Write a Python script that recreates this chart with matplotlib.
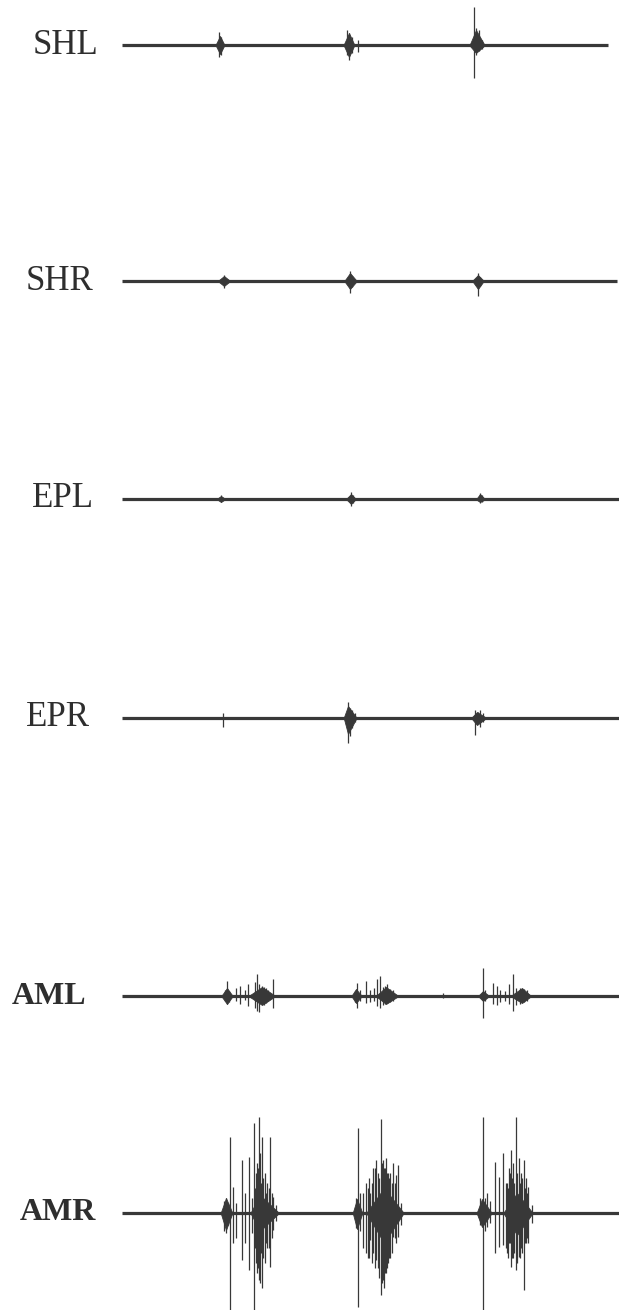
import matplotlib
matplotlib.use("Agg")
import matplotlib.pyplot as plt

# ---------------- data ----------------
channels = ["SHL", "SHR", "EPL", "EPR", "AML", "AMR"]
trace_end = [4.86, 4.95, 4.97, 4.97, 4.97, 4.97]   # s, end of each recorded trace

# spike events: time (s), upward deflection, downward deflection (a.u.)
SHL_t    = [0.97, 0.99, 2.25, 2.27, 2.30, 2.36, 3.52, 3.54, 3.57, 3.60]
SHL_up   = [13, 8, 15, 12, 8, 5, 38, 17, 15, 5]
SHL_down = [12, 10, 10, 15, 8, 7, 33, 10, 6, 4]

SHR_t    = [1.02, 2.28, 2.30, 3.56, 3.58]
SHR_up   = [6, 10, 5, 8, 4]
SHR_down = [7, 12, 6, 15, 5]

EPL_t    = [0.99, 2.29, 2.31, 3.58, 3.60]
EPL_up   = [4, 7, 4, 6, 4]
EPL_down = [3, 7, 4, 4, 3]

EPR_t    = [1.01, 2.26, 2.28, 2.30, 2.33, 3.53, 3.56, 3.58, 3.61]
EPR_up   = [5, 16, 10, 8, 5, 8, 6, 8, 5]
EPR_down = [9, 25, 18, 10, 4, 17, 5, 9, 4]

AML_t    = [1.03, 1.05, 1.07, 1.14, 1.18, 1.23, 1.26, 1.33, 1.35, 1.37, 1.40, 1.42,
            1.44, 1.46, 1.51,
            2.33, 2.35, 2.38, 2.44, 2.48, 2.52, 2.55, 2.58, 2.61, 2.63, 2.65, 2.68, 2.71,
            3.21,
            3.61, 3.63, 3.71, 3.75, 3.78, 3.83, 3.87, 3.91, 3.94, 3.98, 4.02, 4.05]
AML_up   = [6, 15, 5, 8, 10, 6, 12, 14, 22, 12, 10, 9, 8, 6, 17,
            5, 13, 6, 15, 6, 8, 17, 20, 9, 10, 12, 7, 6,
            3,
            28, 6, 13, 10, 6, 5, 12, 22, 8, 8, 7, 6]
AML_down = [5, 8, 6, 5, 8, 4, 10, 12, 15, 16, 8, 9, 7, 5, 12,
            6, 12, 5, 7, 6, 5, 10, 12, 9, 8, 7, 6, 5,
            2,
            22, 5, 8, 9, 6, 5, 8, 15, 9, 8, 6, 5]

AMR_t    = [1.02, 1.04, 1.06, 1.08, 1.11, 1.14, 1.20, 1.23, 1.27, 1.30, 1.32, 1.33, 1.34,
            1.35, 1.36, 1.37, 1.38, 1.39, 1.40, 1.41, 1.43, 1.44, 1.45, 1.47, 1.48, 1.50,
            1.51, 1.54,
            2.34, 2.36, 2.38, 2.41, 2.44, 2.46, 2.47, 2.48, 2.50, 2.51, 2.53, 2.54, 2.56,
            2.57, 2.59, 2.60, 2.61, 2.62, 2.63, 2.64, 2.65, 2.66, 2.67, 2.68, 2.70, 2.71,
            2.73, 2.74, 2.76, 2.79,
            3.58, 3.61, 3.63, 3.65, 3.68, 3.73, 3.77, 3.81, 3.84, 3.85, 3.86, 3.87, 3.88,
            3.89, 3.90, 3.91, 3.92, 3.94, 3.95, 3.97, 3.98, 3.99, 4.00, 4.02, 4.03, 4.04,
            4.05, 4.06, 4.10]
AMR_up   = [12, 15, 10, 76, 26, 10, 53, 20, 56, 15, 90, 25, 40, 50, 45, 96, 60, 30, 76,
            35, 40, 20, 30, 25, 76, 20, 16, 8,
            15, 85, 20, 20, 30, 25, 35, 20, 30, 45, 45, 53, 40, 35, 94, 50, 53, 45, 45,
            55, 40, 40, 35, 40, 30, 50, 30, 38, 48, 10,
            15, 96, 15, 20, 12, 51, 36, 60, 30, 30, 25, 45, 40, 63, 35, 50, 30, 96, 40,
            55, 30, 40, 35, 53, 25, 35, 20, 26, 8]
AMR_down = [18, 20, 12, 97, 30, 25, 47, 30, 57, 20, 97, 35, 50, 60, 55, 67, 70, 40, 75,
            45, 50, 30, 35, 35, 54, 25, 17, 8,
            15, 94, 18, 35, 40, 45, 45, 27, 50, 40, 55, 47, 55, 65, 82, 70, 67, 75, 60,
            60, 55, 50, 45, 45, 40, 24, 25, 30, 24, 12,
            12, 97, 18, 14, 10, 40, 34, 32, 35, 40, 45, 30, 30, 54, 45, 45, 40, 57, 50,
            44, 45, 35, 40, 77, 30, 30, 25, 30, 10]

# dense burst envelopes (spindle shaped): start, peak, end (s), upward, downward extent
SHL_env = [(0.94, 0.98, 1.02, 9, 9), (2.22, 2.27, 2.32, 12, 12), (3.48, 3.54, 3.62, 15, 8)]
SHR_env = [(0.97, 1.02, 1.07, 5, 5), (2.23, 2.28, 2.34, 8, 8), (3.51, 3.56, 3.61, 6, 8)]
EPL_env = [(0.96, 0.99, 1.02, 3, 3), (2.25, 2.29, 2.33, 5, 5), (3.55, 3.58, 3.62, 5, 3)]
EPR_env = [(2.22, 2.26, 2.34, 12, 16), (3.50, 3.55, 3.63, 6, 7)]
AML_env = [(1.00, 1.05, 1.10, 8, 8), (1.28, 1.40, 1.52, 9, 9), (2.30, 2.34, 2.39, 7, 7),
           (2.55, 2.64, 2.75, 9, 8), (3.57, 3.61, 3.66, 5, 5), (3.90, 4.00, 4.08, 8, 7)]
AMR_env = [(0.99, 1.04, 1.10, 15, 17), (1.29, 1.38, 1.56, 18, 18), (2.31, 2.35, 2.40, 14, 16),
           (2.45, 2.62, 2.81, 25, 30), (3.55, 3.60, 3.69, 14, 14), (3.82, 3.95, 4.10, 20, 22)]

events = {
    "SHL": (SHL_t, SHL_up, SHL_down, SHL_env),
    "SHR": (SHR_t, SHR_up, SHR_down, SHR_env),
    "EPL": (EPL_t, EPL_up, EPL_down, EPL_env),
    "EPR": (EPR_t, EPR_up, EPR_down, EPR_env),
    "AML": (AML_t, AML_up, AML_down, AML_env),
    "AMR": (AMR_t, AMR_up, AMR_down, AMR_env),
}

# ---------------- layout ----------------
W, H, DPI = 619, 1310, 100
baseline_px = [45, 281, 499, 718, 996, 1213]
label_x_px = [33, 26, 32, 26, 12, 20]
label_size = [25, 25, 25, 25, 23, 23]
label_bold = [False, False, False, False, True, True]
trace_left_px = 122
ink = "#383838"

fig = plt.figure(figsize=(W / DPI, H / DPI), dpi=DPI)
fig.patch.set_facecolor("white")

for name, yb, lx, fs, bold, tend in zip(channels, baseline_px, label_x_px, label_size,
                                        label_bold, trace_end):
    t, up, down, env = events[name]
    ax = fig.add_axes([trace_left_px / W, (H - yb - 100) / H, (W - trace_left_px) / W, 200 / H])
    ax.set_xlim(0, 4.97)
    ax.set_ylim(-100, 100)
    ax.axis("off")
    ax.plot([0, tend], [0, 0], color=ink, lw=2.3, solid_capstyle="butt")
    for (a, m, b, u, d) in env:
        ax.fill_between([a, m, b], [1, u, 1], [-1, -d, -1], color=ink, lw=0.6)
    ax.vlines(t, [-d for d in down], up, color=ink, lw=0.9)
    fig.text(lx / W, 1 - yb / H, name, ha="left", va="center",
             fontsize=fs, family="Liberation Serif",
             fontweight="bold" if bold else "normal", color="#2e2e2e")

fig.savefig("out.png", dpi=DPI, facecolor="white")
